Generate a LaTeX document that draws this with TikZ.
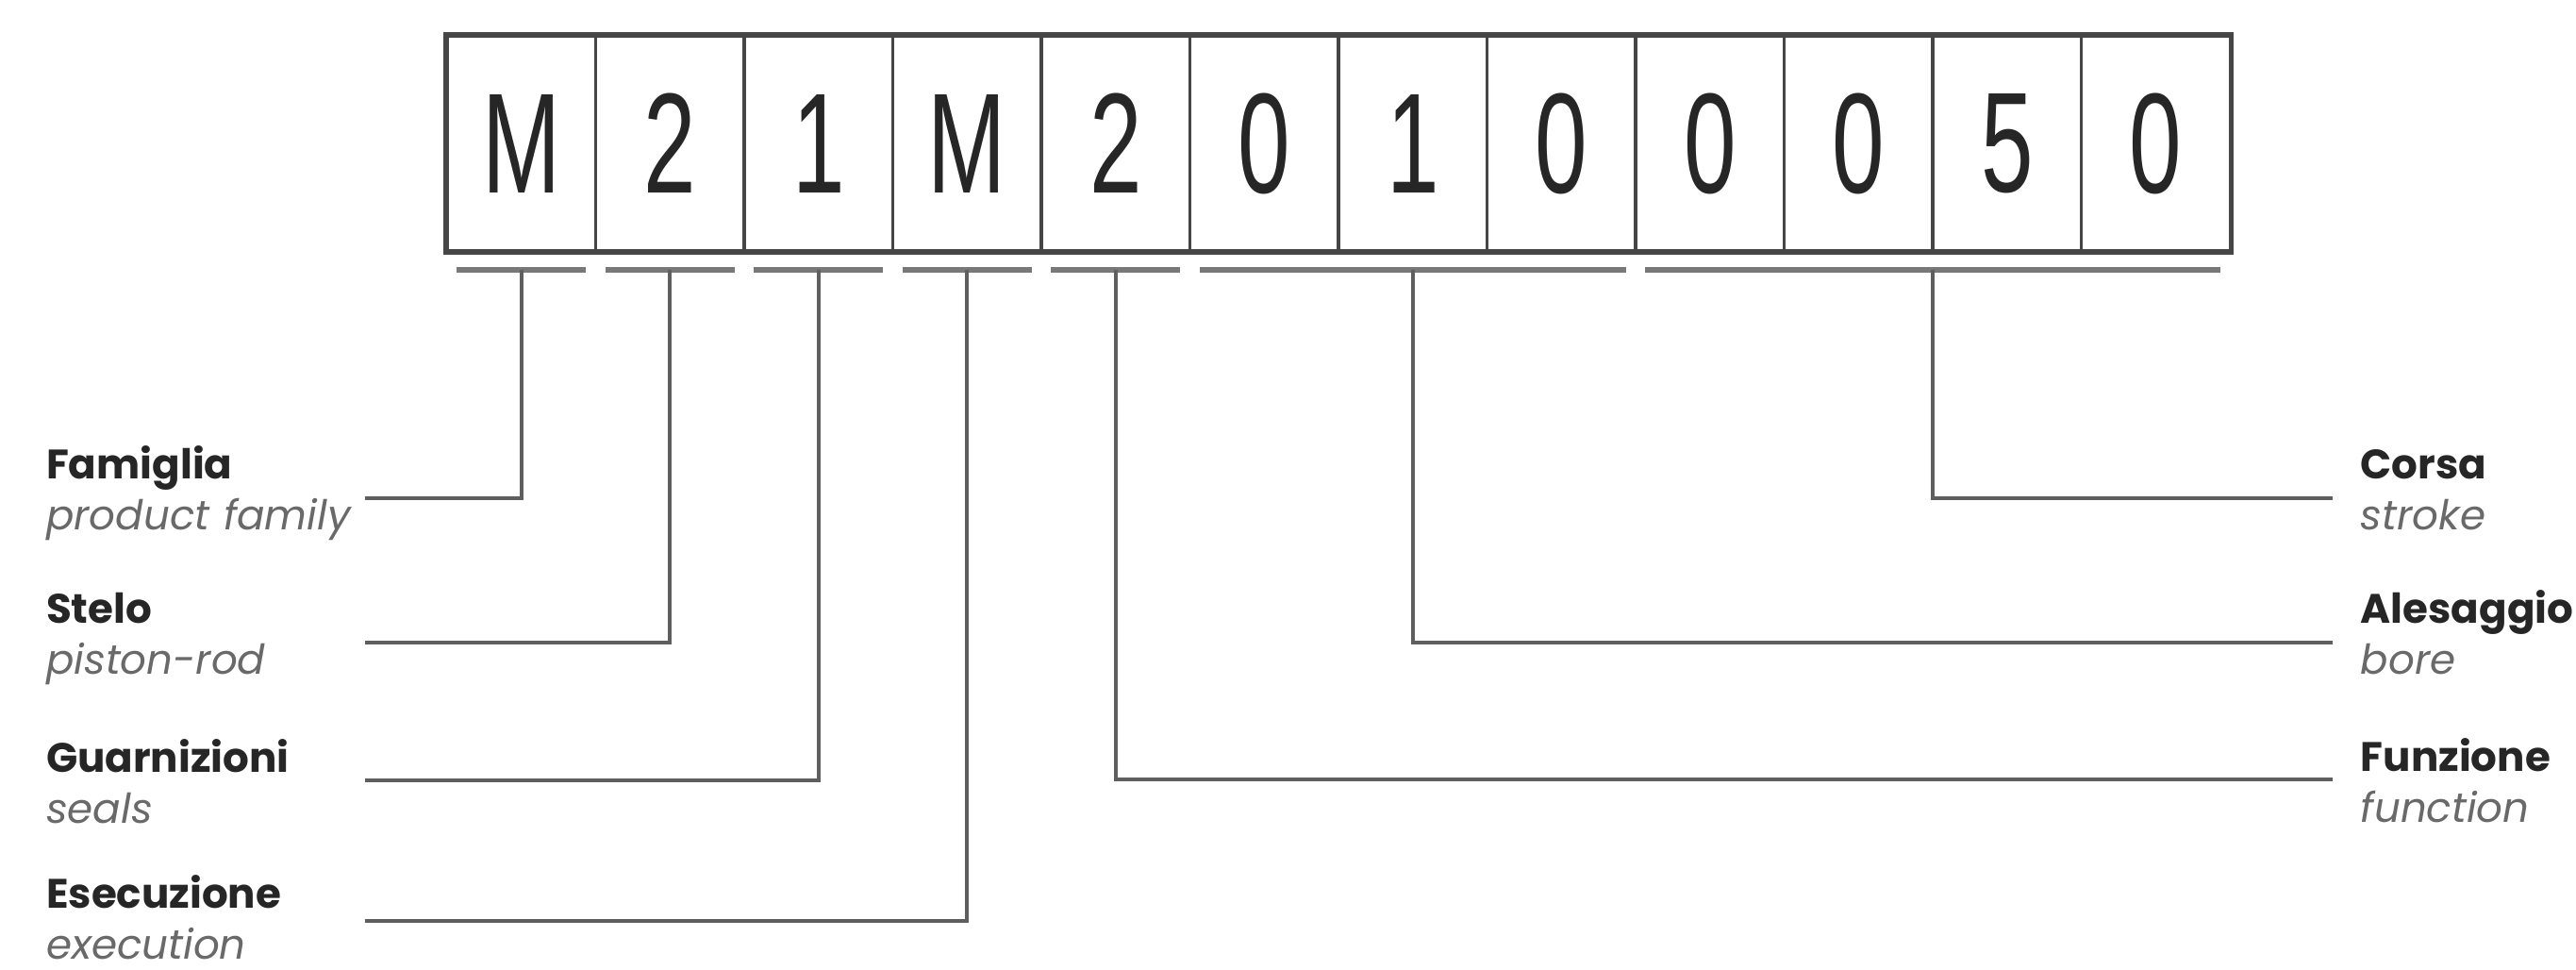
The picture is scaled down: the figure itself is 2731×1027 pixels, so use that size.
\documentclass[tikz,border=0pt]{standalone}
\usepackage{fontspec}
\setmainfont{Poppins}
\newfontfamily\digitfont{Liberation Sans}
\usetikzlibrary{positioning,calc}

\definecolor{boxgray}{RGB}{70,70,70}
\definecolor{linegray}{RGB}{95,95,95}
\definecolor{bargray}{RGB}{120,120,120}
\definecolor{subgray}{RGB}{105,105,105}

\newcommand{\codechar}[1]{\scalebox{0.66}[1]{#1}}
\newcommand{\twolines}[2]{\textbf{#1}\\{\color{subgray}\itshape #2}}

\tikzset{
  cell/.style={rectangle,draw=boxgray,line width=0.9pt,
               minimum width=1.575cm,minimum height=2.28cm,inner sep=0pt,
               font=\digitfont\fontsize{43}{43}\selectfont,text=black!85},
  bar/.style={draw=bargray,line width=1.7pt},
  leader/.style={draw=linegray,line width=1.1pt},
  leftlabel/.style={anchor=base east,inner sep=0pt,text width=3.37cm,align=left,
                    font=\fontsize{12.4}{15.6}\selectfont,text=black!85},
  rightlabel/.style={anchor=base west,inner xsep=0.29cm,inner ysep=0pt,
                     text width=2.3cm,align=left,
                     font=\fontsize{12.4}{15.6}\selectfont,text=black!85}
}

\begin{document}
\begin{tikzpicture}[x=0.01cm,y=-0.01cm]
  \useasboundingbox (0,0) rectangle (2731,1027);

  % code cells
  \foreach \d [count=\i] in {M,2,1,M,2,0,1,0,0,0,5,0}
    \node[cell] (c\i) at ({474+157.5*(\i-0.5)},152) {\codechar{\d}};
  \draw[boxgray,line width=1.6pt] (c1.north west) rectangle (c12.south east);

  % bars under the groups
  \foreach \a/\b/\n in {1/1/fam,2/2/ste,3/3/gua,4/4/ese,5/5/fun,6/8/ale,9/12/cor}{
    \coordinate (s\n) at ($(c\a.south west)+(12,18)$);
    \coordinate (e\n) at ($(c\b.south east)+(-12,18)$);
    \draw[bar] (s\n) -- (e\n);
    \coordinate (b\n) at ($(s\n)!0.5!(e\n)$);
  }

  % labels (placed on the baseline of their first line)
  \node[leftlabel] (lfam) at (387,507) {\twolines{Famiglia}{product family}};
  \node[leftlabel] (lste) at (387,660) {\twolines{Stelo}{piston-rod}};
  \node[leftlabel] (lgua) at (387,818) {\twolines{Guarnizioni}{seals}};
  \node[leftlabel] (lese) at (387,962) {\twolines{Esecuzione}{execution}};
  \node[rightlabel] (lcor) at (2473,507) {\twolines{Corsa}{stroke}};
  \node[rightlabel] (lale) at (2473,660) {\twolines{Alesaggio}{bore}};
  \node[rightlabel] (lfun) at (2473,817) {\twolines{Funzione}{function}};

  % leaders
  \foreach \n/\o in {fam/21,ste/21,gua/9,ese/14}
    \draw[leader] (b\n) |- ($(l\n.base east)+(0,\o)$);
  \foreach \n/\o in {cor/21,ale/21,fun/9}
    \draw[leader] (b\n) |- ($(l\n.base west)+(0,\o)$);
\end{tikzpicture}
\end{document}
